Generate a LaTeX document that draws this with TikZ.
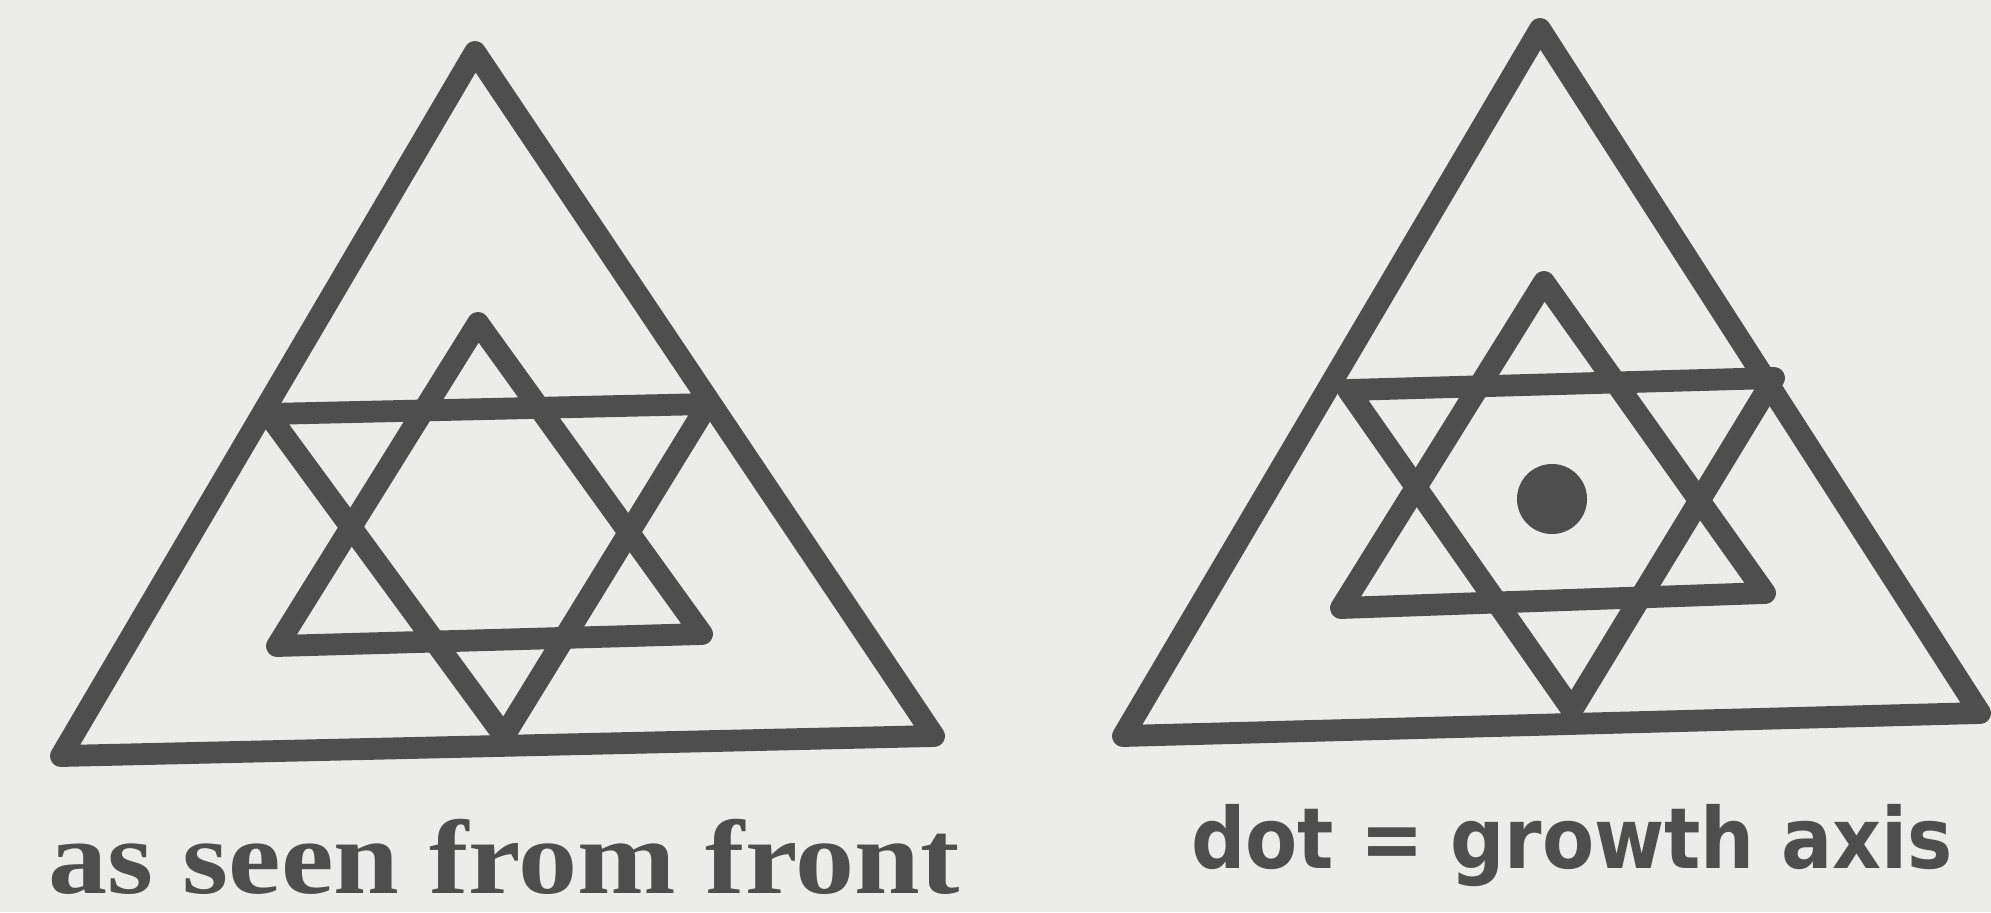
\documentclass[tikz,border=0pt]{standalone}
\usepackage{fontspec}
\newfontfamily\serifbold{Liberation Serif}
\newfontfamily\sansbold{DejaVu Sans}
\definecolor{ink}{HTML}{4E4E4E}
\definecolor{paper}{HTML}{ECECEA}
\begin{document}
\begin{tikzpicture}[x=0.01cm,y=-0.01cm,
  tri/.style={draw=ink,line width=6.2pt,line join=round},
  lbl/.style={text=ink,inner sep=0pt,anchor=base}]
\fill[paper] (0,0) rectangle (1991,912);
\useasboundingbox (0,0) rectangle (1991,912);
% left figure
\draw[tri] (475,52) -- (934,736) -- (61,756) -- cycle;
\draw[tri] (478,323) -- (702,634) -- (277,646) -- cycle;
\draw[tri] (268,414) -- (708,404) -- (504,736) -- cycle;
% right figure
\draw[tri] (1540,29) -- (1980,713) -- (1123,736) -- cycle;
\draw[tri] (1544,282) -- (1765,593) -- (1341,608) -- cycle;
\draw[tri] (1348,390) -- (1774,378) -- (1572,710) -- cycle;
\fill[ink] (1552,499) circle (0.35cm);
% labels
\node[lbl] (front) at (504,893) {\scalebox{1.12}[1.0]{\serifbold\fontsize{30pt}{30pt}\selectfont\bfseries as seen from front}};
\node[lbl] (axis) at (1572,868) {\scalebox{0.9}[1.0]{\sansbold\fontsize{24pt}{24pt}\selectfont\bfseries dot = growth axis}};
\end{tikzpicture}
\end{document}
